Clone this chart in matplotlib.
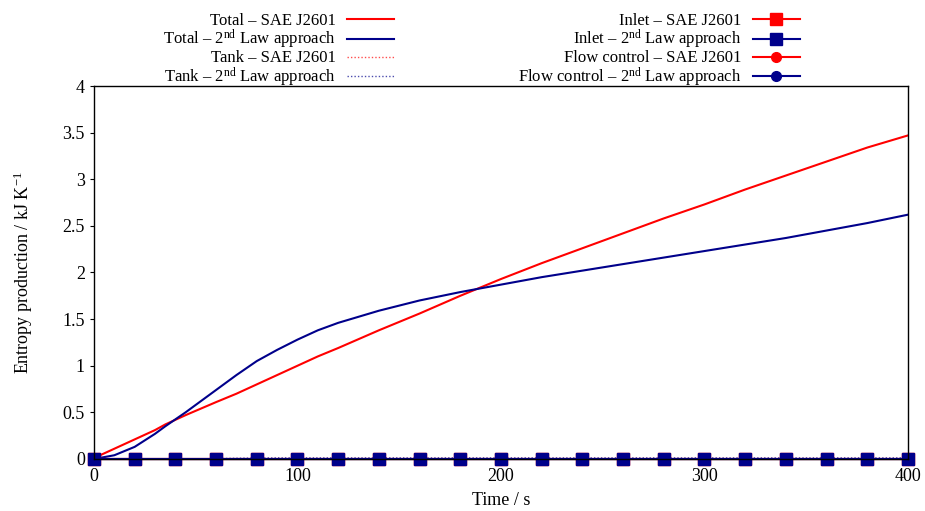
import matplotlib
matplotlib.use("Agg")
import matplotlib.pyplot as plt
import numpy as np

plt.rcParams['font.family'] = ['Liberation Serif', 'DejaVu Serif']
plt.rcParams['mathtext.fontset'] = 'custom'
plt.rcParams['mathtext.rm'] = 'Liberation Serif'
plt.rcParams['mathtext.it'] = 'Liberation Serif:italic'

# time axis (s)
t = [0, 10, 20, 30, 35, 45, 60, 70, 80, 90, 100, 110, 120, 140, 160, 180, 200, 220, 240,
     260, 280, 300, 320, 340, 360, 380, 400]

# total entropy production, kJ/K
total_sae = [0.01, 0.11, 0.21, 0.31, 0.37, 0.47, 0.61, 0.70, 0.80, 0.90, 1.00, 1.10, 1.19,
             1.38, 1.56, 1.75, 1.93, 2.10, 2.26, 2.42, 2.58, 2.73, 2.89, 3.04, 3.19, 3.34, 3.47]
total_2nd = [0.0, 0.04, 0.13, 0.27, 0.35, 0.50, 0.74, 0.90, 1.05, 1.17, 1.28, 1.38, 1.46,
             1.59, 1.70, 1.79, 1.87, 1.95, 2.02, 2.09, 2.16, 2.23, 2.30, 2.37, 2.45, 2.53, 2.62]

# tank contributions (near zero)
tank_sae = [0.0] * len(t)
tank_2nd = [0.0, 0.0, 0.0, 0.0, 0.0, 0.0, 0.003, 0.008, 0.01, 0.012, 0.012, 0.012, 0.012,
            0.012, 0.012, 0.012, 0.012, 0.012, 0.012, 0.012, 0.012, 0.012, 0.012, 0.012,
            0.012, 0.012, 0.012]

# inlet / flow control, sampled every 20 s
t_mk = np.arange(0, 401, 20)
inlet_sae = [0.0] * len(t_mk)
inlet_2nd = [0.003] * len(t_mk)
flow_sae = [0.0] * len(t_mk)
flow_2nd = [0.002] * len(t_mk)

red = '#ff0000'
blue = '#00008b'

fig = plt.figure(figsize=(9.25, 5.11), dpi=100)
ax = fig.add_axes([0.1016, 0.1018, 0.88, 0.7299])

ax.plot(t, total_sae, color=red, lw=1.5, label='Total \u2013 SAE J2601')
ax.plot(t, total_2nd, color=blue, lw=1.5, label='Total \u2013 2$^{\\rm nd}$ Law approach')
ax.plot(t, tank_sae, color=red, lw=1.0, ls=(0, (1, 1.5)), alpha=0.7, label='Tank \u2013 SAE J2601')
ax.plot(t, tank_2nd, color=blue, lw=1.0, ls=(0, (1, 1.5)), alpha=0.7, label='Tank \u2013 2$^{\\rm nd}$ Law approach')
ax.plot(t_mk, inlet_sae, color=red, lw=1.5, marker='s', ms=8, clip_on=False, label='Inlet \u2013 SAE J2601')
ax.plot(t_mk, flow_sae, color=red, lw=1.5, marker='o', ms=7, clip_on=False, label='Flow control \u2013 SAE J2601')
ax.plot(t_mk, flow_2nd, color=blue, lw=1.5, marker='o', ms=7, clip_on=False, label='Flow control \u2013 2$^{\\rm nd}$ Law approach')
ax.plot(t_mk, inlet_2nd, color=blue, lw=1.5, marker='s', ms=8, clip_on=False, label='Inlet \u2013 2$^{\\rm nd}$ Law approach')

ax.set_xlim(0, 400)
ax.set_ylim(0, 4)
ax.set_xticks([0, 100, 200, 300, 400])
ax.set_yticks([0, 0.5, 1, 1.5, 2, 2.5, 3, 3.5, 4])
ax.set_yticklabels(['0', '0.5', '1', '1.5', '2', '2.5', '3', '3.5', '4'])
ax.tick_params(direction='out', length=3, labelsize=13, top=False, right=False)
ax.set_xlabel('Time / s', fontsize=13, labelpad=5)
ax.set_ylabel('Entropy production / kJ K$^{-1}$', fontsize=13, labelpad=20)
for s in ax.spines.values():
    s.set_linewidth(1.0)

h, l = ax.get_legend_handles_labels()
order = [0, 1, 2, 3, 4, 7, 5, 6]
ax.legend([h[i] for i in order], [l[i] for i in order], ncol=2, frameon=False,
          markerfirst=False, loc='lower right', bbox_to_anchor=(0.877, 0.97),
          fontsize=12, handlelength=2.8, columnspacing=7.45, labelspacing=-0.05,
          handletextpad=0.7, borderpad=0)

fig.savefig('out.png', dpi=100)
